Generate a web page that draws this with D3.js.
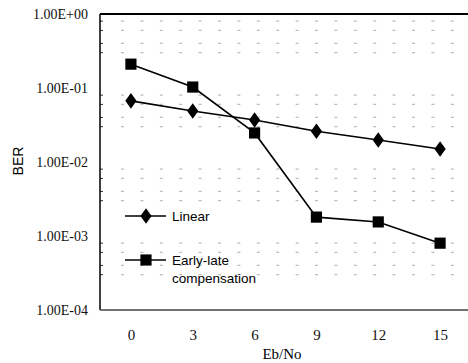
<!DOCTYPE html>
<html>
<head>
<meta charset="utf-8">
<script src="https://cdn.jsdelivr.net/npm/d3@7"></script>
<style>
  body { margin: 0; background: white; }
  svg { display: block; }
  .serif { font-family: "Liberation Serif", "Times New Roman", serif; }
  .sans { font-family: "Liberation Sans", Arial, sans-serif; }
</style>
</head>
<body>
<div id="canvas"></div>
<script>
// DATA
const ebno = ["0", "3", "6", "9", "12", "15"];
const linear = [0.067, 0.049, 0.037, 0.026, 0.0198, 0.015];
const earlyLate = [0.21, 0.103, 0.0247, 0.0018, 0.00155, 0.0008];
const yTicks = [1, 1e-1, 1e-2, 1e-3, 1e-4];
const yTickLabels = ["1.00E+00", "1.00E-01", "1.00E-02", "1.00E-03", "1.00E-04"];
const minorSteps = [8, 6, 4, 3];

// DIMENSIONS
const width = 468;
const height = 363;
const margin = { top: 14, right: -3, bottom: 53, left: 100 };

const canvas = d3.select("#canvas")
    .append("svg")
    .attr("width", width)
    .attr("height", height)
    .style("background", "white");

// SCALES
const xScale = d3.scalePoint()
    .domain(ebno)
    .range([margin.left, width - margin.right])
    .padding(0.5);

const yScale = d3.scaleLog()
    .domain([1e-4, 1])
    .range([height - margin.bottom, margin.top]);

// GRID (faint dashed minor lines)
const minorVals = [];
yTicks.slice(0, 4).forEach(t => minorSteps.forEach(m => minorVals.push(t * m / 10)));

canvas.append("g")
    .selectAll("line")
    .data(minorVals)
    .enter()
    .append("line")
    .attr("x1", margin.left + 21)
    .attr("x2", width)
    .attr("y1", d => yScale(d))
    .attr("y2", d => yScale(d))
    .style("stroke", "#bcbcbc")
    .style("stroke-width", 1.2)
    .style("stroke-dasharray", "3 16.4");

// AXES
const yAx = d3.axisLeft(yScale)
    .tickValues(yTicks)
    .tickFormat((d, i) => yTickLabels[i])
    .tickSize(0)
    .tickPadding(12);

const yaxis = canvas.append("g")
    .attr("transform", `translate(${margin.left}, 0)`)
    .call(yAx)
    .attr("font-family", null)
    .attr("font-size", null);
yaxis.select(".domain").remove();
yaxis.selectAll("text")
    .attr("class", "serif")
    .style("font-size", "14px")
    .attr("dy", "0.3em")
    .style("fill", "#111");

// minor ticks inside the left axis
canvas.append("g")
    .selectAll("line")
    .data(minorVals)
    .enter()
    .append("line")
    .attr("x1", margin.left)
    .attr("x2", margin.left + 3)
    .attr("y1", d => yScale(d))
    .attr("y2", d => yScale(d))
    .style("stroke", "#333");

const xAx = d3.axisBottom(xScale).tickSize(0).tickPadding(19);
const xaxis = canvas.append("g")
    .attr("transform", `translate(0, ${height - margin.bottom})`)
    .call(xAx)
    .attr("font-family", null)
    .attr("font-size", null);
xaxis.select(".domain").remove();
xaxis.selectAll("text")
    .attr("class", "serif")
    .style("font-size", "15px")
    .style("fill", "#111");

// frame lines
canvas.append("line")
    .attr("x1", margin.left).attr("x2", width)
    .attr("y1", margin.top).attr("y2", margin.top)
    .style("stroke", "#000").style("stroke-width", 2);
canvas.append("line")
    .attr("x1", margin.left).attr("x2", margin.left)
    .attr("y1", margin.top).attr("y2", height - margin.bottom)
    .style("stroke", "#000").style("stroke-width", 1.5);
canvas.append("line")
    .attr("x1", margin.left).attr("x2", width)
    .attr("y1", height - margin.bottom).attr("y2", height - margin.bottom)
    .style("stroke", "#444").style("stroke-width", 1.6);

// LABELS
canvas.append("text")
    .attr("class", "serif")
    .attr("x", 282)
    .attr("y", 359)
    .attr("text-anchor", "middle")
    .style("font-size", "15px")
    .text("Eb/No");

canvas.append("text")
    .attr("class", "sans")
    .attr("transform", "translate(23, 161) rotate(-90)")
    .attr("text-anchor", "middle")
    .style("font-size", "14px")
    .text("BER");

// LINES
const makeLine = d3.line()
    .x((d, i) => xScale(ebno[i]))
    .y(d => yScale(d));

const diamond = d3.symbol().type(d3.symbolDiamond).size(70);
const square = d3.symbol().type(d3.symbolSquare).size(125);

function drawSeries(values, sym) {
    canvas.append("path")
        .attr("d", makeLine(values))
        .style("stroke", "#000")
        .style("stroke-width", 1.6)
        .style("fill", "none");
    canvas.append("g")
        .selectAll("path")
        .data(values)
        .enter()
        .append("path")
        .attr("d", sym)
        .attr("transform", (d, i) => `translate(${xScale(ebno[i])}, ${yScale(d)}) scale(${sym === diamond ? "1.25,1" : "1"})`)
        .style("fill", "#000");
}

drawSeries(linear, diamond);
drawSeries(earlyLate, square);

// LEGEND
const legend = [
    { name: ["Linear"], sym: diamond, y: 216 },
    { name: ["Early-late", "compensation"], sym: square, y: 260 }
];

legend.forEach(l => {
    canvas.append("line")
        .attr("x1", 125).attr("x2", 166)
        .attr("y1", l.y).attr("y2", l.y)
        .style("stroke", "#000").style("stroke-width", 1.6);
    canvas.append("path")
        .attr("d", l.sym)
        .attr("transform", `translate(146, ${l.y}) scale(${l.sym === diamond ? "1.25,1" : "1"})`)
        .style("fill", "#000");
    l.name.forEach((t, j) => {
        canvas.append("text")
            .attr("class", "sans")
            .attr("x", 172)
            .attr("y", l.y + 5 + j * 18)
            .style("font-size", "13.5px")
            .text(t);
    });
});
</script>
</body>
</html>
